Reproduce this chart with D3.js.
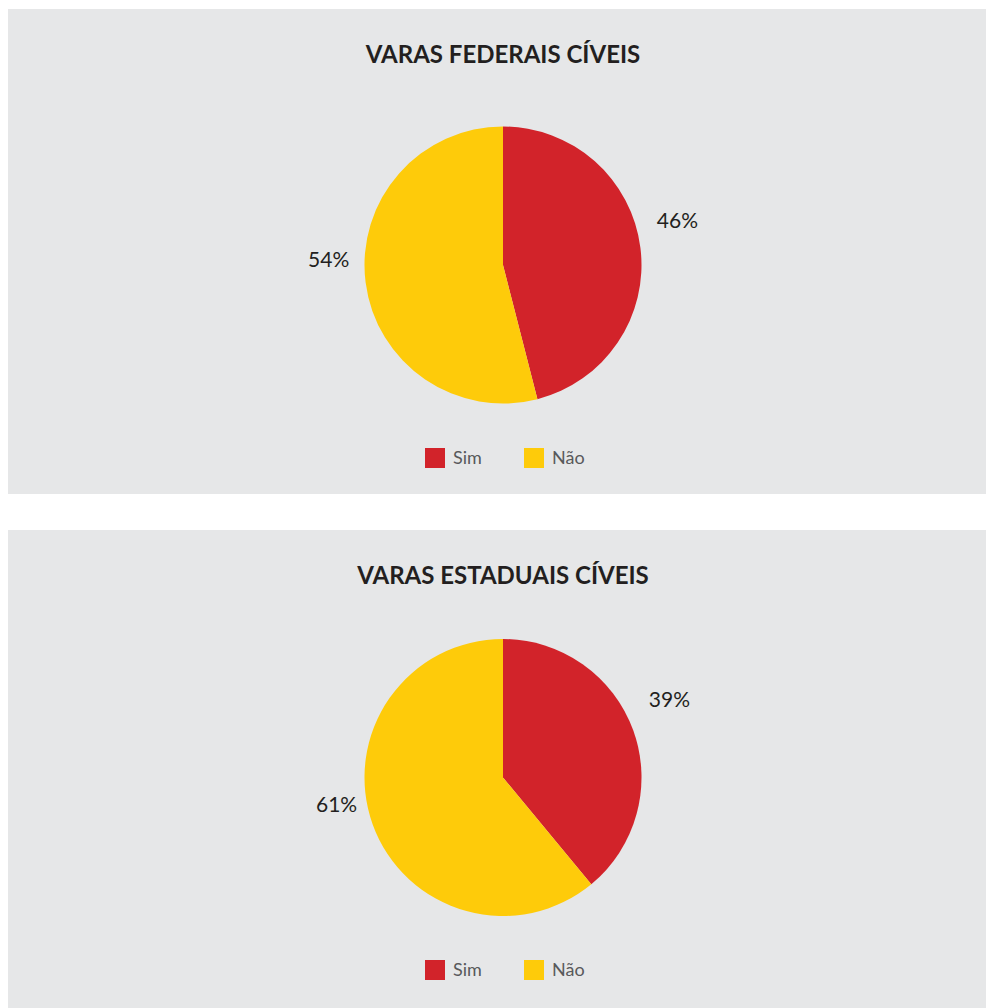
<!DOCTYPE html>
<meta charset="utf-8">
<script src="https://cdn.jsdelivr.net/npm/d3@7"></script>
<style>
  body { margin: 0; background: #fff; }
  text { font-family: Lato, "Open Sans", sans-serif; }
</style>
<body>
<script>

// data
var categories = ["Sim", "Não"];
var colors = ["#d2232a", "#fecb0a"];
var titles = ["VARAS FEDERAIS CÍVEIS", "VARAS ESTADUAIS CÍVEIS"];
var federais = [46, 54];
var estaduais = [39, 61];
var series = [federais, estaduais];

// layout of the two grey boxes
var W = 986, H = 1008;
var panelTop = [9, 530];
var panelHeight = [485, 480];
var pieOffset = [256, 247.5];   // pie centre below box top
var legendOffset = [439, 430];  // legend square top below box top
var cx = 503, radius = 138.5;

var svg = d3.select("body").append("svg")
    .attr("width", W)
    .attr("height", H);

var pie = d3.pie().sort(null).value(function(d) { return d; });
var arc = d3.arc().innerRadius(0).outerRadius(radius);
var labelArc = d3.arc().innerRadius(155).outerRadius(155);

series.forEach(function(values, i) {
  var g = svg.append("g").attr("transform", "translate(0," + panelTop[i] + ")");

  g.append("rect")
    .attr("x", 8).attr("y", 0)
    .attr("width", W - 8).attr("height", panelHeight[i])
    .style("fill", "#e6e7e8");

  g.append("text")
    .attr("x", cx).attr("y", 54)
    .attr("text-anchor", "middle")
    .style("font-size", "24px")
    .style("font-weight", "bold")
    .style("fill", "#231f20")
    .text(titles[i]);

  var pg = g.append("g").attr("transform", "translate(" + cx + "," + pieOffset[i] + ")");
  var arcs = pie(values);

  pg.selectAll("path")
    .data(arcs)
    .enter().append("path")
    .attr("d", arc)
    .style("fill", function(d, j) { return colors[j]; });

  // labels sit just outside the slice, left or right of the pie
  pg.selectAll(".lbl")
    .data(arcs)
    .enter().append("text")
    .attr("class", "lbl")
    .attr("x", function(d) { return labelArc.centroid(d)[0]; })
    .attr("y", function(d) { return labelArc.centroid(d)[1] - 25; })
    .attr("dy", "0.35em")
    .attr("text-anchor", function(d) {
      return (d.startAngle + d.endAngle) / 2 < Math.PI ? "start" : "end";
    })
    .style("font-size", "21px")
    .style("fill", "#231f20")
    .text(function(d) { return d.value + "%"; });

  // legend
  var legendX = d3.scalePoint().domain(categories).range([cx - 78, cx + 21]);
  var lg = g.selectAll(".leg")
    .data(categories)
    .enter().append("g")
    .attr("class", "leg")
    .attr("transform", function(d) { return "translate(" + legendX(d) + "," + legendOffset[i] + ")"; });

  lg.append("rect")
    .attr("width", 20).attr("height", 20)
    .style("fill", function(d, j) { return colors[j]; });

  lg.append("text")
    .attr("x", 28).attr("y", 10)
    .attr("dy", "0.35em")
    .style("font-size", "18px")
    .style("fill", "#58595b")
    .text(function(d) { return d; });
});

</script>
</body>
